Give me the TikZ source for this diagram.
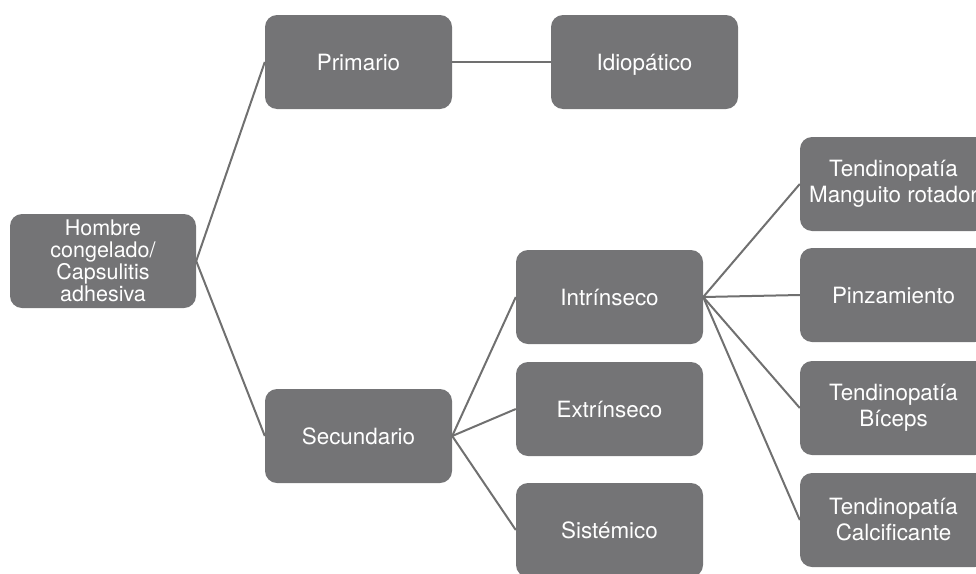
\documentclass[tikz,border=0pt]{standalone}
\usepackage{fontspec}
\setmainfont{TeX Gyre Heros}
\definecolor{boxgray}{HTML}{747476}
\definecolor{linegray}{HTML}{707070}
\begin{document}
\begin{tikzpicture}[x=1pt,y=-1pt,
  box/.style={fill=boxgray,rounded corners=12pt,minimum width=187pt,minimum height=94pt,
    inner sep=0pt,text=white,align=center,
    font=\fontsize{22.4}{26}\selectfont},
  onebox/.style={box,text height=16pt,text depth=0pt},
  conn/.style={draw=linegray,line width=2pt}]
\useasboundingbox[clip] (0,0) rectangle (976,573);
\node[box,minimum width=186pt,font=\fontsize{21.5}{21.8}\selectfont] (hombre) at (103,261) {Hombre\\congelado/\\Capsulitis\\adhesiva};
\node[onebox] (prim) at (358.5,62) {Primario};
\node[onebox] (idio) at (644.5,62) {Idiopático};
\node[onebox] (sec) at (358.5,436) {Secundario};
\node[onebox] (intr) at (609.5,297) {Intrínseco};
\node[onebox] (extr) at (609.5,409) {Extrínseco};
\node[onebox] (sist) at (609.5,530) {Sistémico};
\node[box] (mang) at (893.5,184) {Tendinopatía\\Manguito rotador};
\node[onebox] (pinz) at (893.5,295) {Pinzamiento};
\node[box] (bice) at (893.5,408) {Tendinopatía\\Bíceps};
\node[box] (calc) at (893.5,520) {Tendinopatía\\Calcificante};
\draw[conn] (hombre.east) -- (prim.west);
\draw[conn] (hombre.east) -- (sec.west);
\draw[conn] (prim.east) -- (idio.west);
\draw[conn] (sec.east) -- (intr.west);
\draw[conn] (sec.east) -- (extr.west);
\draw[conn] (sec.east) -- (sist.west);
\draw[conn] (intr.east) -- (mang.west);
\draw[conn] (intr.east) -- (pinz.west);
\draw[conn] (intr.east) -- (bice.west);
\draw[conn] (intr.east) -- (calc.west);
\end{tikzpicture}
\end{document}
